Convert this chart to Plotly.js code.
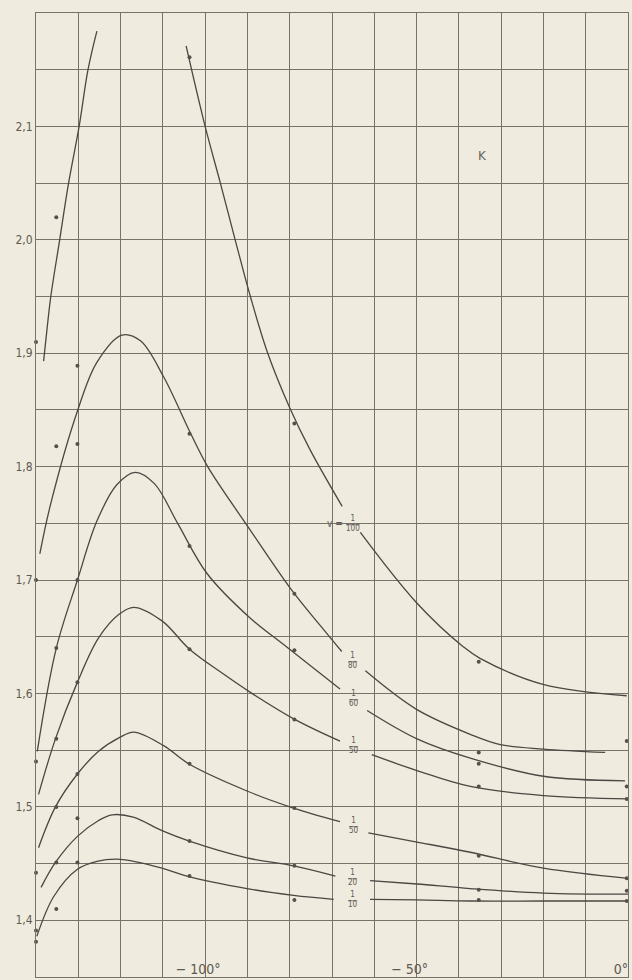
<!DOCTYPE html>
<html>
<head>
<meta charset="utf-8">
<script src="https://cdn.plot.ly/plotly-3.0.1.min.js"></script>
<style>
  html, body { margin: 0; padding: 0; background: #efebdf; }
  #chart { width: 632px; height: 980px; }
</style>
</head>
<body>
<div id="chart"></div>
<script>
// ---------- data ----------
// temperature (°C) and K values of each curve; null = gap where the label sits
const c100aX = [-138.2, -137.4, -136.5, -134.4, -132.3, -129.8, -127.7, -125.6];
const c100aY = [1.893, 1.921, 1.950, 2.000, 2.050, 2.100, 2.150, 2.184];
const c100bX = [-104.5, -100, -96.4, -92.9, -89.3, -85.2, -80, -75.2, -67.6, null, -63.3, -50, -38.9, -35, -20.1, -0.3];
const c100bY = [2.171, 2.100, 2.050, 2.000, 1.950, 1.900, 1.852, 1.815, 1.765, null, 1.742, 1.680, 1.641, 1.631, 1.608, 1.598];

const c80X = [-139.1, -136.6, -130.2, -125.6, -119.7, -115.3, -109.8, -103.4, -99.4, -89.5, -79.3, -72.8, -67.7, null, -62.1, -50, -37.3, -30.2, -20, -5.4];
const c80Y = [1.723, 1.766, 1.849, 1.892, 1.916, 1.911, 1.879, 1.829, 1.800, 1.745, 1.690, 1.660, 1.637, null, 1.620, 1.586, 1.564, 1.555, 1.551, 1.548];

const c60X = [-139.7, -135.2, -130.2, -125.6, -120.9, -116.5, -112, -106.5, -99.6, -89.5, -80.7, -68.1, null, -61.7, -49.9, -37.3, -20, -0.7];
const c60Y = [1.549, 1.640, 1.700, 1.752, 1.784, 1.795, 1.785, 1.750, 1.706, 1.667, 1.641, 1.604, null, 1.585, 1.560, 1.543, 1.527, 1.523];

const c50X = [-139.4, -135.4, -130.2, -125.2, -120.3, -116.9, -110.2, -103.7, -96, -89.3, -78.7, -68.1, null, -60.6, -49.9, -37.3, -20, 0];
const c50Y = [1.511, 1.560, 1.610, 1.649, 1.670, 1.676, 1.664, 1.639, 1.618, 1.601, 1.577, 1.558, null, 1.546, 1.532, 1.518, 1.510, 1.507];

const c30X = [-139.4, -135.4, -130.2, -125.2, -120.3, -116.9, -109.8, -103.9, -90.1, -79.1, -68.1, null, -61.4, -49.9, -37.3, -20, 0];
const c30Y = [1.464, 1.500, 1.529, 1.549, 1.561, 1.566, 1.554, 1.538, 1.514, 1.499, 1.487, null, 1.477, 1.469, 1.460, 1.446, 1.437];

const c20X = [-138.8, -135.4, -130.2, -125.2, -122, -117, -110.2, -103.9, -90.1, -79.1, -69.2, null, -61, -49.9, -37.3, -20, 0];
const c20Y = [1.429, 1.451, 1.474, 1.488, 1.493, 1.491, 1.479, 1.470, 1.455, 1.448, 1.439, null, 1.435, 1.432, 1.428, 1.424, 1.423];

const c10X = [-139.8, -135.8, -130.2, -125.6, -120.9, -116.9, -110.2, -104.3, -90.1, -79.1, -69.6, null, -61, -49.9, -37.3, -20, -0.7];
const c10Y = [1.386, 1.421, 1.445, 1.452, 1.454, 1.452, 1.446, 1.439, 1.428, 1.422, 1.4185, null, 1.4185, 1.418, 1.417, 1.417, 1.417];

// measured points
const dotX = [
  -140, -140, -140, -140, -140, -140,
  -135.2, -135.2, -135.2, -135.2, -135.2, -135.2, -135.2,
  -130.2, -130.2, -130.2, -130.2, -130.2, -130.2, -130.2,
  -103.7, -103.7, -103.7, -103.7, -103.7, -103.7, -103.7,
  -78.9, -78.9, -78.9, -78.9, -78.9, -78.9, -78.9,
  -35.3, -35.3, -35.3, -35.3, -35.3, -35.3, -35.3,
  -0.3, -0.3, -0.3, -0.3, -0.3, -0.3
];
const dotY = [
  1.910, 1.700, 1.540, 1.442, 1.391, 1.381,
  2.020, 1.818, 1.640, 1.560, 1.500, 1.451, 1.410,
  1.889, 1.820, 1.700, 1.610, 1.529, 1.490, 1.451,
  2.161, 1.829, 1.730, 1.639, 1.538, 1.470, 1.439,
  1.838, 1.688, 1.638, 1.577, 1.499, 1.448, 1.418,
  1.628, 1.548, 1.538, 1.518, 1.457, 1.427, 1.418,
  1.558, 1.518, 1.507, 1.437, 1.426, 1.417
];

// curve labels (v = 1/n)
const curveDenoms = ["100", "80", "60", "50", "50", "20", "10"];
const yTickVals = [1.4, 1.5, 1.6, 1.7, 1.8, 1.9, 2.0, 2.1];
const yTickText = ["1,4", "1,5", "1,6", "1,7", "1,8", "1,9", "2,0", "2,1"];
const xTickVals = [-100, -50, 0];
const xTickText = ["− 100°", "− 50°", "0°"];
const axisLetter = "K";

// ---------- drawing ----------
const ink = "#4b4741";
const gridCol = "#77726a";
const bg = "#efebdf";

const curves = [
  [c100aX, c100aY], [c100bX, c100bY], [c80X, c80Y], [c60X, c60Y],
  [c50X, c50Y], [c30X, c30Y], [c20X, c20Y], [c10X, c10Y]
];
const traces = curves.map(([x, y]) => ({
  type: "scatter", mode: "lines", x: x, y: y,
  connectgaps: false,
  line: { color: ink, width: 1.3, shape: "spline", smoothing: 1.0 },
  hoverinfo: "skip", showlegend: false
}));
traces.push({
  type: "scatter", mode: "markers", x: dotX, y: dotY,
  marker: { color: "#55504a", size: 4 },
  hoverinfo: "skip", showlegend: false, cliponaxis: false
});

const labelPos = [
  [-65.0, 1.750], [-65.1, 1.629], [-64.8, 1.596], [-64.8, 1.554],
  [-64.8, 1.484], [-65.0, 1.438], [-65.0, 1.418]
];
const labelFont = { family: "DejaVu Sans Condensed, DejaVu Sans", size: 8, color: "#5e5a53" };
const annotations = curveDenoms.map((d, i) => ({
  x: labelPos[i][0], y: labelPos[i][1], xref: "x", yref: "y",
  text: "1<br><span style='text-decoration:overline'>" + d + "</span>",
  showarrow: false, xanchor: "center", yanchor: "middle",
  font: labelFont
}));
annotations.push({
  x: -66.9, y: 1.750, xref: "x", yref: "y", text: "v =",
  showarrow: false, xanchor: "right", yanchor: "middle",
  font: { family: "DejaVu Sans Condensed, DejaVu Sans", size: 10, color: "#5e5a53" }
});
annotations.push({
  x: -34.5, y: 2.074, xref: "x", yref: "y", text: axisLetter,
  showarrow: false, xanchor: "center", yanchor: "middle",
  font: { family: "DejaVu Sans", size: 12, color: "#6a665f" }
});

const layout = {
  width: 632, height: 980,
  margin: { l: 36, r: 4, t: 13, b: 3, pad: 0 },
  paper_bgcolor: bg, plot_bgcolor: bg,
  separators: ",.",
  showlegend: false,
  xaxis: {
    range: [-140, 0], fixedrange: true,
    tickmode: "array", tickvals: xTickVals, ticktext: xTickText,
    ticklabelposition: "inside", ticklabelshift: -7,
    ticklabeloverflow: "allow",
    tickfont: { family: "DejaVu Sans Condensed, DejaVu Sans", size: 14, color: "#5e5a53" },
    ticks: "", showgrid: true, gridcolor: gridCol, gridwidth: 1,
    minor: { tick0: 0, dtick: 10, showgrid: true, gridcolor: gridCol, gridwidth: 1 },
    zeroline: false, showline: true, mirror: true, linecolor: gridCol, linewidth: 1
  },
  yaxis: {
    range: [1.35, 2.2], fixedrange: true,
    tickmode: "array", tickvals: yTickVals, ticktext: yTickText,
    tickfont: { family: "DejaVu Sans Condensed, DejaVu Sans", size: 12, color: "#5e5a53" },
    ticks: "", showgrid: true, gridcolor: gridCol, gridwidth: 1,
    minor: { tick0: 1.35, dtick: 0.05, showgrid: true, gridcolor: gridCol, gridwidth: 1 },
    zeroline: false, showline: true, mirror: true, linecolor: gridCol, linewidth: 1
  },
  annotations: annotations
};

Plotly.newPlot("chart", traces, layout, { staticPlot: true, displayModeBar: false });
</script>
</body>
</html>
